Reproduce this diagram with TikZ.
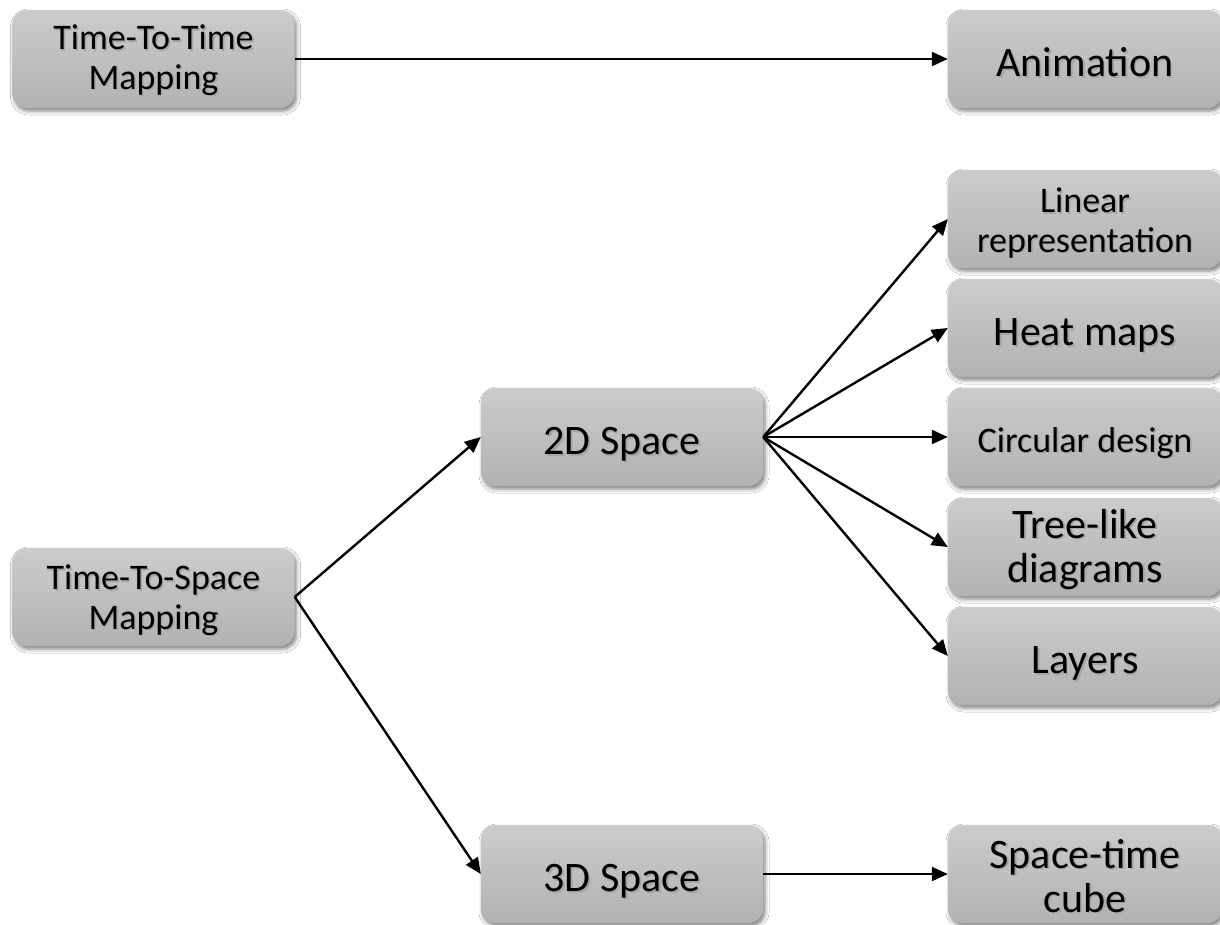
\documentclass[tikz,border=0pt]{standalone}
\usepackage{fontspec}
\setmainfont{Carlito}
\usetikzlibrary{arrows.meta,shadows.blur}
\definecolor{boxtop}{HTML}{CCCCCC}
\definecolor{boxbot}{HTML}{B2B2B2}
\newcommand\shtext[1]{\makebox[0pt][l]{\hspace{1.6pt}\raisebox{-1.8pt}{\textcolor{black!35}{#1}}}#1}
\tikzset{
  box/.style={rectangle, rounded corners=14pt, top color=boxtop, bottom color=boxbot,
    draw=none, minimum width=282pt, minimum height=98pt, align=center, inner sep=0pt,
    blur shadow={shadow xshift=2pt, shadow yshift=-3pt, shadow blur radius=4pt, shadow opacity=50}},
  rbox/.style={box, minimum width=274pt},
  bigtxt/.style={font=\fontsize{42}{44}\selectfont, text height=40pt, text depth=5pt},
  smalltxt/.style={font=\fontsize{36}{39.5}\selectfont},
  multi/.style={text height=#1, text depth=2pt},
  conn/.style={line width=2.4pt, -{Triangle[length=16pt,width=14pt]}}
}
\begin{document}
\begin{tikzpicture}[x=1pt,y=-1pt]
\useasboundingbox (0,0) rectangle (1220,924);
\fill[white] (0,0) rectangle (1220,924);
\node[box, smalltxt, multi=62pt] (t2t) at (153.5,59) {\shtext{Time-To-Time}\\\shtext{Mapping}};
\node[rbox, bigtxt] (anim) at (1085,59) {\shtext{Animation}};
\node[rbox, smalltxt, multi=68pt] (lin) at (1085,219) {\shtext{Linear}\\\shtext{representation}};
\node[rbox, bigtxt] (heat) at (1085,328) {\shtext{Heat maps}};
\node[rbox, smalltxt, text height=36pt, text depth=6pt] (circ) at (1085,437) {\shtext{Circular design}};
\node[rbox, bigtxt, multi=72pt] (tree) at (1085,547) {\shtext{Tree-like}\\\shtext{diagrams}};
\node[rbox, bigtxt] (layers) at (1085,656) {\shtext{Layers}};
\node[box, bigtxt] (d2) at (622,437) {\shtext{2D Space}};
\node[box, smalltxt, multi=66pt] (t2s) at (153.5,597) {\shtext{Time-To-Space}\\\shtext{Mapping}};
\node[box, bigtxt] (d3) at (622,874) {\shtext{3D Space}};
\node[rbox, bigtxt, multi=78pt] (stc) at (1085,874) {\shtext{Space-time}\\\shtext{cube}};

\draw[conn] (t2t.east) -- (anim.west |- t2t.east);
\draw[conn] (t2s.east) -- (d2.west);
\draw[conn] (t2s.east) -- (d3.west);
\draw[conn] (d2.east) -- (lin.west);
\draw[conn] (d2.east) -- (heat.west);
\draw[conn] (d2.east) -- (circ.west);
\draw[conn] (d2.east) -- (tree.west);
\draw[conn] (d2.east) -- (layers.west);
\draw[conn] (d3.east) -- (stc.west);
\end{tikzpicture}
\end{document}
